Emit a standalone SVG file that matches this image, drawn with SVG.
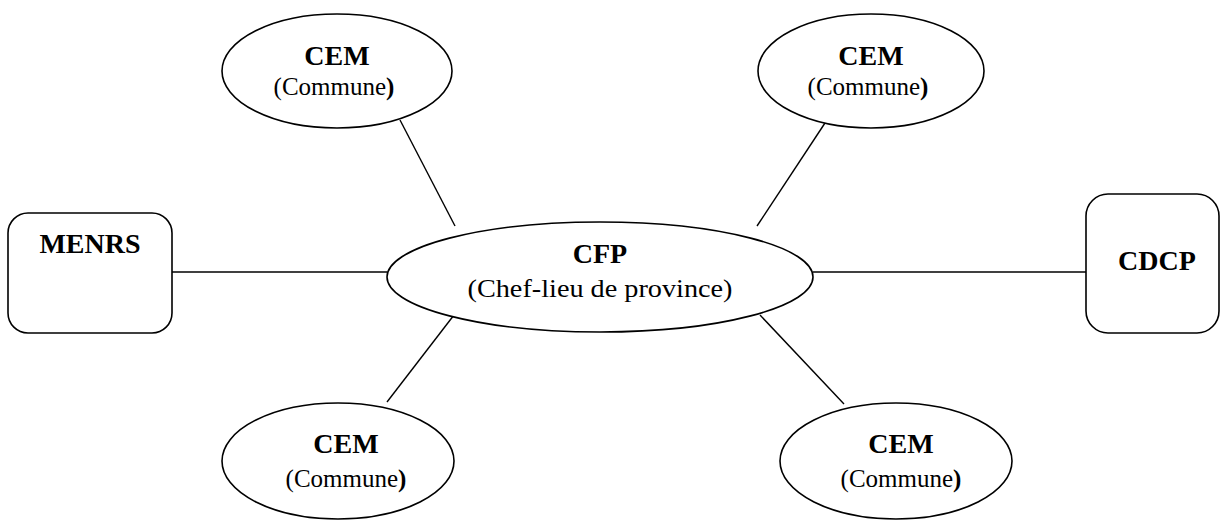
<svg xmlns="http://www.w3.org/2000/svg" width="1220" height="521" viewBox="0 0 1220 521">
<style>
.shape{fill:#fff;stroke:#000;stroke-width:1.6}
.conn{stroke:#000;stroke-width:1.4;fill:none}
.b{font-family:"Liberation Serif",serif;font-weight:bold;font-size:28px;fill:#000;text-anchor:middle}
.r{font-family:"Liberation Serif",serif;font-size:25px;fill:#000;text-anchor:middle}
</style>
<rect width="1220" height="521" fill="#fff"/>
<g id="connectors">
<line class="conn" x1="172" y1="272" x2="387" y2="272"/>
<line class="conn" x1="813" y1="272" x2="1086" y2="272"/>
<line class="conn" x1="400" y1="120" x2="455" y2="226"/>
<line class="conn" x1="825" y1="123" x2="757" y2="226"/>
<line class="conn" x1="454" y1="315" x2="387" y2="402"/>
<line class="conn" x1="760" y1="315" x2="844" y2="404"/>
</g>
<g id="menrs">
<rect class="shape" x="8" y="213" width="164" height="120" rx="20"/>
<text class="b" x="90" y="253">MENRS</text>
</g>
<g id="cdcp">
<rect class="shape" x="1086" y="194" width="133" height="139" rx="22"/>
<text class="b" x="1157" y="270">CDCP</text>
</g>
<g id="cfp">
<ellipse class="shape" cx="600" cy="277" rx="213" ry="55"/>
<text class="b" x="600" y="263">CFP</text>
<text class="r" x="600" y="297" textLength="265" lengthAdjust="spacingAndGlyphs">(Chef-lieu de province)</text>
</g>
<g id="cem-tl">
<ellipse class="shape" cx="337" cy="71" rx="115" ry="57"/>
<text class="b" x="337" y="65">CEM</text>
<text class="r" x="334" y="95">(Commune<tspan font-weight="bold">)</tspan></text>
</g>
<g id="cem-tr">
<ellipse class="shape" cx="871" cy="71" rx="113" ry="57"/>
<text class="b" x="871" y="65">CEM</text>
<text class="r" x="868" y="95">(Commune<tspan font-weight="bold">)</tspan></text>
</g>
<g id="cem-bl">
<ellipse class="shape" cx="338" cy="461" rx="116" ry="58"/>
<text class="b" x="346" y="453">CEM</text>
<text class="r" x="346" y="487">(Commune<tspan font-weight="bold">)</tspan></text>
</g>
<g id="cem-br">
<ellipse class="shape" cx="896" cy="461" rx="116" ry="58"/>
<text class="b" x="901" y="453">CEM</text>
<text class="r" x="901" y="487">(Commune<tspan font-weight="bold">)</tspan></text>
</g>
</svg>
